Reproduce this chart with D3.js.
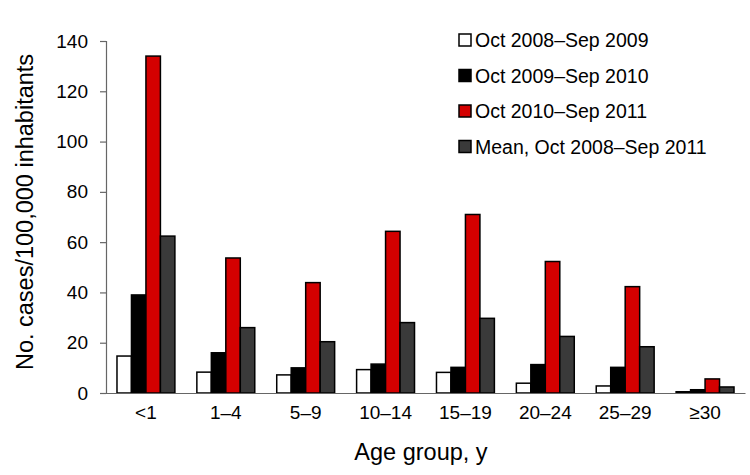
<!DOCTYPE html>
<html><head><meta charset="utf-8">
<script src="https://cdn.jsdelivr.net/npm/d3@7/dist/d3.min.js"></script>
<style>body{margin:0;background:#fff}svg{display:block}</style>
</head><body>
<svg id="c" width="750" height="475"></svg>
<script>
const categories = ["<1","1–4","5–9","10–14","15–19","20–24","25–29","≥30"];
const seriesNames = ["Oct 2008–Sep 2009","Oct 2009–Sep 2010","Oct 2010–Sep 2011","Mean, Oct 2008–Sep 2011"];
const s2008 = [14.7, 8.3, 7.2, 9.3, 8.2, 3.9, 2.8, 0.5];
const s2009 = [39, 16, 10, 11.5, 10.2, 11.3, 10.2, 1.3];
const s2010 = [134, 53.7, 43.9, 64.3, 71, 52.3, 42.3, 5.6];
const sMean = [62.4, 26, 20.4, 28, 29.7, 22.5, 18.4, 2.4];
const yTicks = [0,20,40,60,80,100,120,140];
const colors = ["#ffffff","#000000","#d40000","#3a3a3a"];
const series = [s2008, s2009, s2010, sMean];

const svg = d3.select("#c");
const font = "Liberation Sans, Arial, sans-serif";
const x0 = d3.scaleBand().domain(categories).range([106, 745]).paddingInner(0.275).paddingOuter(0.1375);
const x1 = d3.scaleBand().domain(d3.range(4)).range([0, x0.bandwidth()]);
const y = d3.scaleLinear().domain([0,140]).range([393, 41]);

// bars
const g = svg.append("g");
categories.forEach((c, i) => {
  series.forEach((s, j) => {
    g.append("rect")
      .attr("x", x0(c) + x1(j))
      .attr("y", y(s[i]))
      .attr("width", x1.bandwidth())
      .attr("height", y(0) - y(s[i]))
      .attr("fill", colors[j])
      .attr("stroke", "#000")
      .attr("stroke-width", 1.5);
  });
});

// y axis
const ya = svg.append("g").attr("transform","translate(106,0)")
  .call(d3.axisLeft(y).tickValues(yTicks).tickSize(6).tickPadding(12));
ya.select(".domain").attr("stroke","#666").attr("stroke-width",1.2);
ya.selectAll(".tick line").attr("stroke","#666").attr("stroke-width",1.2);
ya.selectAll("text").attr("font-family",font).attr("font-size",19).attr("fill","#000");

// x axis
const xa = svg.append("g").attr("transform","translate(0,393)")
  .call(d3.axisBottom(x0).tickSize(0).tickPadding(13));
xa.select(".domain").attr("stroke","#666").attr("stroke-width",1.2);
xa.selectAll("text").attr("font-family",font).attr("font-size",19).attr("fill","#000");

// titles
svg.append("text").attr("x", 421).attr("y", 460).attr("text-anchor","middle")
  .attr("font-family",font).attr("font-size",23.5).text("Age group, y");
svg.append("text").attr("transform","translate(33,212) rotate(-90)").attr("text-anchor","middle")
  .attr("font-family",font).attr("font-size",23.5).text("No. cases/100,000 inhabitants");

// legend
const leg = svg.append("g");
seriesNames.forEach((n, j) => {
  const cy = 40 + j*35.5;
  leg.append("rect").attr("x",459).attr("y",cy-6).attr("width",12).attr("height",12)
    .attr("fill",colors[j]).attr("stroke","#000").attr("stroke-width",1.5);
  leg.append("text").attr("x",475).attr("y",cy).attr("dy","0.36em")
    .attr("font-family",font).attr("font-size",19.5).text(n);
});
</script>
</body></html>
